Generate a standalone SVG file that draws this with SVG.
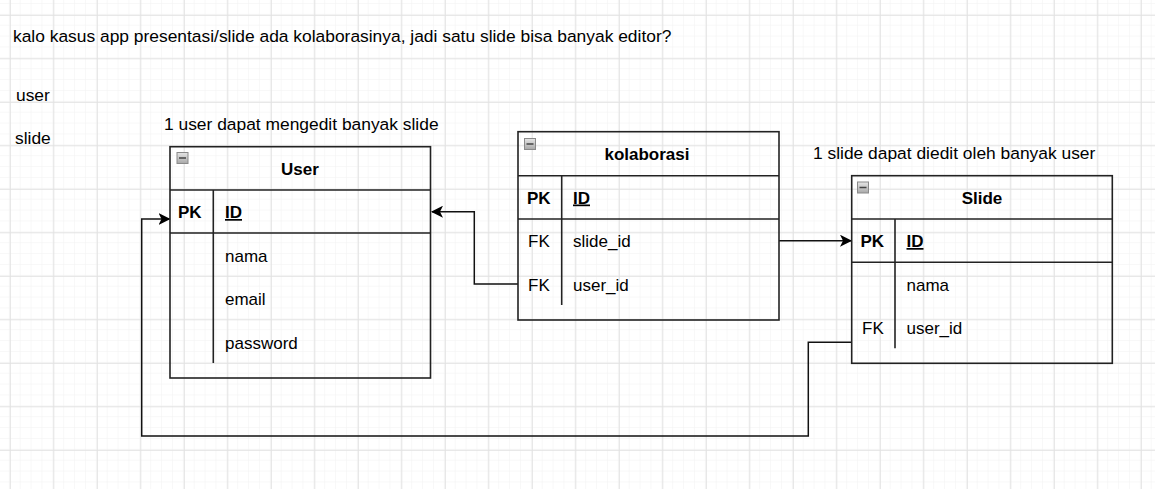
<svg xmlns="http://www.w3.org/2000/svg" width="1155" height="489" viewBox="0 0 1155 489">
  <defs>
    <pattern id="minor" x="9.8" y="14.8" width="10.875" height="10.875" patternUnits="userSpaceOnUse">
      <path d="M10.875 0 V10.875 M0 10.875 H10.875" fill="none" stroke="#f1f1f1" stroke-width="1"/>
    </pattern>
    <pattern id="major" x="9.8" y="14.8" width="43.5" height="43.5" patternUnits="userSpaceOnUse">
      <path d="M0.5 0 V43.5 M0 0.5 H43.5" fill="none" stroke="#e2e2e2" stroke-width="1"/>
    </pattern>
    <linearGradient id="iconGrad" x1="0" y1="0" x2="0" y2="1">
      <stop offset="0" stop-color="#e6e6e6"/>
      <stop offset="1" stop-color="#a8a8a8"/>
    </linearGradient>
    <marker id="arrow" viewBox="0 0 12 12" refX="11" refY="6" markerWidth="12" markerHeight="12" markerUnits="userSpaceOnUse" orient="auto">
      <path d="M0 0 L12 6 L0 12 L3 6 Z" fill="#000"/>
    </marker>
    <g id="icon">
      <rect x="0.5" y="0.5" width="11" height="11" fill="url(#iconGrad)" stroke="#8a8a8a" stroke-width="1"/>
      <line x1="2.5" y1="6" x2="9.5" y2="6" stroke="#444" stroke-width="1.5"/>
    </g>
  </defs>
  <style>
    text { font-family: "Liberation Sans", Arial, sans-serif; font-size: 17px; fill: #000; }
    .lbl { font-size: 17.4px; }
    .b { font-weight: bold; }
    .title { font-weight: bold; text-anchor: middle; }
    .u { text-decoration: underline; }
    .box { fill: none; stroke: #222; stroke-width: 1.6; }
    .ln { fill: none; stroke: #222; stroke-width: 1.6; }
    .conn { fill: none; stroke: #111; stroke-width: 1.5; }
  </style>

  <rect width="1155" height="489" fill="#ffffff"/>
  <rect width="1155" height="489" fill="url(#minor)"/>
  <rect width="1155" height="489" fill="url(#major)"/>

  <g id="labels">
    <text class="lbl" x="13" y="42">kalo kasus app presentasi/slide ada kolaborasinya, jadi satu slide bisa banyak editor?</text>
    <text class="lbl" x="16" y="101">user</text>
    <text class="lbl" x="15" y="144">slide</text>
    <text class="lbl" x="164" y="130">1 user dapat mengedit banyak slide</text>
    <text class="lbl" x="813" y="159">1 slide dapat diedit oleh banyak user</text>
  </g>

  <g id="connectors">
    <path class="conn" d="M518 284 H474.3 V211.7 H432" marker-end="url(#arrow)"/>
    <path class="conn" d="M779 240.7 H851" marker-end="url(#arrow)"/>
    <path class="conn" d="M851.7 342.3 H808.3 V436 H141.7 V219 H169.5" marker-end="url(#arrow)"/>
  </g>

  <g id="user">
    <rect class="box" x="170" y="146.7" width="260.5" height="231.3"/>
    <line class="ln" x1="170" y1="190" x2="430.5" y2="190"/>
    <line class="ln" x1="170" y1="233" x2="430.5" y2="233"/>
    <line class="ln" x1="213.3" y1="190" x2="213.3" y2="363"/>
    <use href="#icon" x="176.5" y="152"/>
    <text class="title" x="300" y="175">User</text>
    <text class="b" x="178" y="218">PK</text>
    <text class="b u" x="225" y="218">ID</text>
    <text x="225" y="262">nama</text>
    <text x="225" y="305">email</text>
    <text x="225" y="349">password</text>
  </g>

  <g id="kolaborasi">
    <rect class="box" x="518" y="131.7" width="261" height="188.3"/>
    <line class="ln" x1="518" y1="175.7" x2="779" y2="175.7"/>
    <line class="ln" x1="518" y1="219" x2="779" y2="219" stroke-width="2.2"/>
    <line class="ln" x1="561.7" y1="175.7" x2="561.7" y2="305"/>
    <use href="#icon" x="524" y="138"/>
    <text class="title" x="647" y="160">kolaborasi</text>
    <text class="b" x="527" y="203.5">PK</text>
    <text class="b u" x="573" y="203.5">ID</text>
    <text x="528" y="247">FK</text>
    <text x="573" y="247">slide_id</text>
    <text x="528" y="291">FK</text>
    <text x="573" y="291">user_id</text>
  </g>

  <g id="slide">
    <rect class="box" x="851.7" y="175.7" width="260.6" height="187.6"/>
    <line class="ln" x1="851.7" y1="219" x2="1112.3" y2="219"/>
    <line class="ln" x1="851.7" y1="262.3" x2="1112.3" y2="262.3"/>
    <line class="ln" x1="895" y1="219" x2="895" y2="348.3"/>
    <use href="#icon" x="857" y="181.5"/>
    <text class="title" x="982" y="203.5">Slide</text>
    <text class="b" x="860.5" y="247">PK</text>
    <text class="b u" x="906.5" y="247">ID</text>
    <text x="906.5" y="290.5">nama</text>
    <text x="862" y="333.5">FK</text>
    <text x="906.5" y="333.5">user_id</text>
  </g>
</svg>
